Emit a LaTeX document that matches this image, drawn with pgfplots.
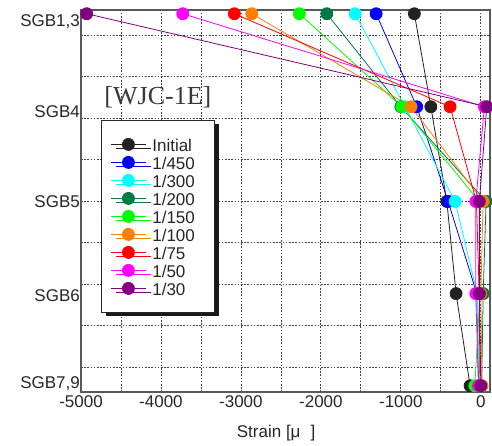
\documentclass[border=0pt]{standalone}
\usepackage{pgfplots}
\pgfplotsset{compat=1.18}
\usepackage{fontspec}
\setmainfont{Liberation Sans}
\newfontfamily\seriffont{Liberation Serif}
\usetikzlibrary{shadows}

\definecolor{cInit}{RGB}{34,34,34}
\definecolor{cB}{RGB}{0,0,255}
\definecolor{cC}{RGB}{0,255,255}
\definecolor{cDG}{RGB}{0,122,68}
\definecolor{cG}{RGB}{0,255,0}
\definecolor{cO}{RGB}{255,128,0}
\definecolor{cR}{RGB}{255,0,0}
\definecolor{cM}{RGB}{255,0,255}
\definecolor{cP}{RGB}{128,0,128}

\newcommand{\lbl}[1]{\hspace{3pt}\makebox[49.5pt][l]{#1}}
\newcommand{\bigfont}{\fontsize{17}{20}\selectfont}

\begin{document}
\begin{tikzpicture}
\path[use as bounding box] (-81pt,-54pt) rectangle (411pt,392pt);
\begin{axis}[
  at={(0pt,0pt)}, anchor=south west,
  scale only axis, width=409pt, height=382pt,
  xmin=-5000, xmax=115, ymin=0.4, ymax=9.6,
  clip=false,
  xtick={-5000,-4000,...,0},
  minor xtick={-4500,-3500,...,-500},
  ytick={0.60,2.71,4.98,7.16,9.33},
  yticklabels={{SGB7,9},SGB6,SGB5,SGB4,{SGB1,3}},
  minor ytick={1,...,9},
  xmajorgrids, xminorgrids, yminorgrids,
  major grid style={draw=black!75, line width=0.8pt, dash pattern=on 1.6pt off 1.6pt},
  minor grid style={draw=black!75, line width=0.8pt, dash pattern=on 1.6pt off 1.6pt},
  major tick length=0pt, minor tick length=0pt,
  axis line style={draw=black!65, line width=1.2pt},
  /pgf/number format/assume math mode=true,
  /pgf/number format/1000 sep={},
  ticklabel style={font=\bigfont, text=black!85},
  yticklabel style={inner xsep=1pt},
  xlabel={Strain [μ\hspace{10pt}]},
  xlabel style={font=\bigfont, text=black!85, at={(axis description cs:0.477,-0.107)}, anchor=center},
  every axis plot/.append style={line width=0.8pt, mark=*, mark size=6pt},
  legend cell align=left,
  legend image code/.code={\draw[mark repeat=2,mark phase=2] plot coordinates {(0pt,0pt) (17.5pt,0pt) (35pt,0pt)};},
  legend style={at={(axis description cs:0.048,0.712)}, anchor=north west,
    draw=black!85, line width=0.8pt, fill=white,
    inner xsep=9.5pt, inner ysep=15pt, row sep=0pt,
    font=\bigfont, text=black!85,
    nodes={inner xsep=3pt, inner ysep=0pt, text height=16.5pt, text depth=1.5pt},
    drop shadow={shadow xshift=5pt, shadow yshift=-4pt, fill=black!90, opacity=1}},
]
\addplot[color=cInit] coordinates {(-831,9.51) (-625,7.27) (-425,4.99) (-309,2.77) (-134,0.55)};
\addlegendentry{\lbl{Initial}}
\addplot[color=cB] coordinates {(-1309,9.51) (-801,7.27) (-409,4.99) (-50,2.77) (-25,0.55)};
\addlegendentry{\lbl{1/450}}
\addplot[color=cC] coordinates {(-1572,9.51) (-950,7.27) (-321,4.99) (-45,2.77) (-20,0.55)};
\addlegendentry{\lbl{1/300}}
\addplot[color=cDG] coordinates {(-1926,9.51) (-1000,7.27) (66,4.99) (30,2.77) (10,0.55)};
\addlegendentry{\lbl{1/200}}
\addplot[color=cG] coordinates {(-2269,9.51) (-988,7.27) (-20,4.99) (-10,2.77) (-75,0.55)};
\addlegendentry{\lbl{1/150}}
\addplot[color=cO] coordinates {(-2865,9.51) (-872,7.27) (29,4.99) (0,2.77) (15,0.55)};
\addlegendentry{\lbl{1/100}}
\addplot[color=cR] coordinates {(-3082,9.51) (-384,7.27) (-55,4.99) (-20,2.77) (-10,0.55)};
\addlegendentry{\lbl{1/75}}
\addplot[color=cM] coordinates {(-3728,9.51) (45,7.27) (-63,4.99) (-63,2.77) (-30,0.55)};
\addlegendentry{\lbl{1/50}}
\addplot[color=cP] coordinates {(-4929,9.51) (75,7.27) (-18,4.99) (-18,2.77) (0,0.55)};
\addlegendentry{\lbl{1/30}}
\node[font=\seriffont\fontsize{26}{28}\selectfont, text=black!78] at (axis description cs:0.188,0.772) {[WJC-1E]};
\end{axis}
\end{tikzpicture}
\end{document}
